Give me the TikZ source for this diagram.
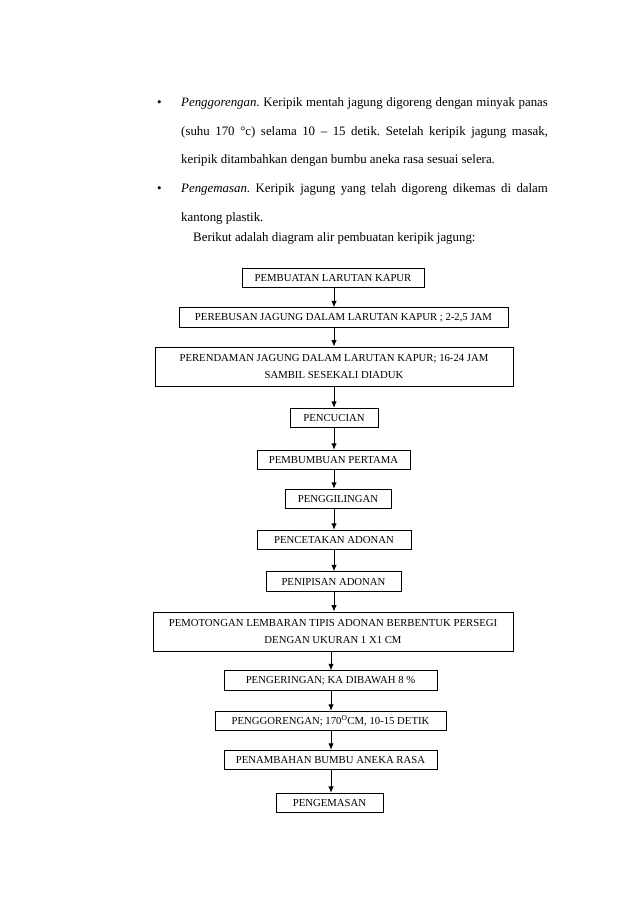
\documentclass[tikz,border=0pt]{standalone}
\usepackage{fontspec}
\setmainfont{Liberation Serif}
\usetikzlibrary{arrows.meta}
\newcommand{\jline}[1]{\hbox to 342pt{\frenchspacing\spaceskip=.25em plus 1fil minus .1em #1}}
\tikzset{
  box/.style={draw, line width=0.85pt, inner sep=0pt, font=\fontsize{10}{15}\selectfont, align=center, minimum height=18.2pt},
  tallbox/.style={box, minimum height=36.4pt},
  body/.style={anchor=base west, inner sep=0pt, font=\fontsize{12}{14}\selectfont},
  arr/.style={line width=0.85pt, -{Latex[length=6pt,width=5pt]}}
}
\begin{document}
\begin{tikzpicture}[x=0.9326pt, y=-0.9326pt]
\useasboundingbox[fill=white] (0,0) rectangle (638,903);
% body text
\node[body] (bul1) at (157,107) {\textbullet};
\node[body] (l1) at (181,107) {\jline{\textit{Penggorengan}. Keripik mentah jagung digoreng dengan minyak panas}};
\node[body] (l2) at (181,135.5) {\jline{(suhu 170 °c) selama 10 – 15 detik. Setelah keripik jagung masak,}};
\node[body] (l3) at (181,164) {\frenchspacing keripik ditambahkan dengan bumbu aneka rasa sesuai selera.};
\node[body] (bul2) at (157,192.5) {\textbullet};
\node[body] (l4) at (181,192.5) {\jline{\textit{Pengemasan}. Keripik jagung yang telah digoreng dikemas di dalam}};
\node[body] (l5) at (181,221) {kantong plastik.};
\node[body] (l6) at (193,241) {Berikut adalah diagram alir pembuatan keripik jagung:};
% coordinates for arrow columns
\coordinate (ax) at (334,0);
\coordinate (bx) at (331,0);
% boxes
\node[box, minimum width=169.7pt] (b1) at (333,278) {PEMBUATAN LARUTAN KAPUR};
\node[box, minimum width=306.8pt] (b2) at (343.5,317.5) {PEREBUSAN JAGUNG DALAM LARUTAN KAPUR ; 2-2,5 JAM};
\node[tallbox, minimum width=333.9pt] (b3) at (334,366.5) {PERENDAMAN JAGUNG DALAM LARUTAN KAPUR; 16-24 JAM\\SAMBIL SESEKALI DIADUK};
\node[box, minimum width=82.1pt] (b4) at (334,418) {PENCUCIAN};
\node[box, minimum width=142.7pt] (b5) at (333.5,460) {PEMBUMBUAN PERTAMA};
\node[box, minimum width=98.9pt] (b6) at (338,499) {PENGGILINGAN};
\node[box, minimum width=143.6pt] (b7) at (334,540) {PENCETAKAN ADONAN};
\node[box, minimum width=125.9pt] (b8) at (333.5,581.5) {PENIPISAN ADONAN};
\node[tallbox, minimum width=335.7pt] (b9) at (333,631.5) {PEMOTONGAN LEMBARAN TIPIS ADONAN BERBENTUK PERSEGI\\DENGAN UKURAN 1  X1 CM};
\node[box, minimum width=198.6pt] (b10) at (330.5,680.5) {PENGERINGAN; KA DIBAWAH 8 \%};
\node[box, minimum width=215.4pt] (b11) at (330.5,721) {PENGGORENGAN; 170\textsuperscript{O}CM, 10-15 DETIK};
\node[box, minimum width=198.6pt] (b12) at (330.5,760) {PENAMBAHAN BUMBU ANEKA RASA};
\node[box, minimum width=99.8pt] (b13) at (329.5,803) {PENGEMASAN};
% arrows
\draw[arr] (b1.south -| ax) -- (b2.north -| ax);
\draw[arr] (b2.south -| ax) -- (b3.north -| ax);
\draw[arr] (b3.south -| ax) -- (b4.north -| ax);
\draw[arr] (b4.south -| ax) -- (b5.north -| ax);
\draw[arr] (b5.south -| ax) -- (b6.north -| ax);
\draw[arr] (b6.south -| ax) -- (b7.north -| ax);
\draw[arr] (b7.south -| ax) -- (b8.north -| ax);
\draw[arr] (b8.south -| ax) -- (b9.north -| ax);
\draw[arr] (b9.south -| bx) -- (b10.north -| bx);
\draw[arr] (b10.south -| bx) -- (b11.north -| bx);
\draw[arr] (b11.south -| bx) -- (b12.north -| bx);
\draw[arr] (b12.south -| bx) -- (b13.north -| bx);
\end{tikzpicture}
\end{document}
